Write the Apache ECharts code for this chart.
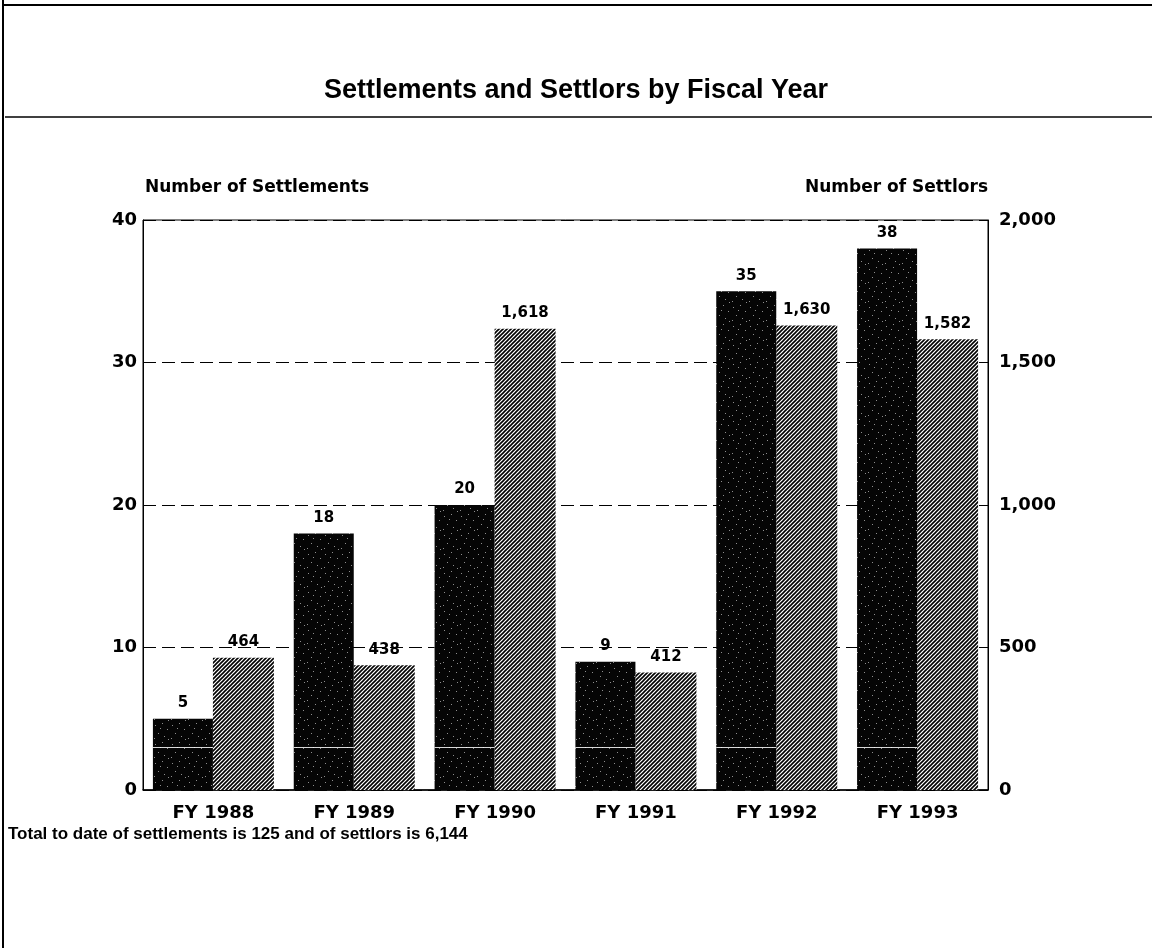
<!DOCTYPE html>
<html>
<head>
<meta charset="utf-8">
<script src="https://cdn.jsdelivr.net/npm/echarts@6/dist/echarts.min.js"></script>
<style>
  html, body { margin: 0; padding: 0; background: #fff; }
  #chart { width: 1152px; height: 948px; }
</style>
</head>
<body>
<div id="chart"></div>
<script>
// Fiscal years and counts
const years = ['FY 1988', 'FY 1989', 'FY 1990', 'FY 1991', 'FY 1992', 'FY 1993'];
const settlements = [5, 18, 20, 9, 35, 38];
const settlors = [464, 438, 1618, 412, 1630, 1582];
const settlementTicks = [0, 10, 20, 30, 40];
const settlorTicks = [0, 500, 1000, 1500, 2000];
// thin white rule that crosses the settlement bars
const dividerValue = 3;

const WIDE = '"DejaVu Sans", Verdana, sans-serif';
const NARROW = '"Liberation Sans", Arial, Helvetica, sans-serif';

const BLACK_W = 60;
const HATCH_W = 61;

// Diagonal hatch fill for the settlor bars
function hatchPattern() {
  const c = document.createElement('canvas');
  c.width = 4; c.height = 4;
  const g = c.getContext('2d');
  g.fillStyle = '#fff';
  g.fillRect(0, 0, 4, 4);
  g.strokeStyle = '#000';
  g.lineWidth = 1.6;
  g.beginPath();
  g.moveTo(-1, 5); g.lineTo(5, -1);
  g.moveTo(-1, 1); g.lineTo(1, -1);
  g.moveTo(3, 5); g.lineTo(5, 3);
  g.stroke();
  return c;
}

// Dark speckled fill for the settlement bars
function speckPattern() {
  const c = document.createElement('canvas');
  c.width = 17; c.height = 19;
  const g = c.getContext('2d');
  g.fillStyle = '#050505';
  g.fillRect(0, 0, 17, 19);
  g.fillStyle = 'rgba(255,255,255,0.55)';
  const dots = [[2, 3], [9, 1], [14, 7], [5, 11], [11, 14], [1, 16], [15, 17], [7, 6]];
  dots.forEach(([x, y]) => g.fillRect(x, y, 1, 1));
  return c;
}

const chart = echarts.init(document.getElementById('chart'), null, { renderer: 'canvas' });

const labelStyle = {
  show: true,
  position: 'top',
  distance: 8,
  color: '#000',
  fontFamily: WIDE,
  fontWeight: 'bold',
  fontSize: 15
};

const axisText = { color: '#000', fontFamily: WIDE, fontWeight: 'bold', fontSize: 18 };

chart.setOption({
  backgroundColor: '#fff',
  animation: false,
  title: {
    text: 'Settlements and Settlors by Fiscal Year',
    left: 'center',
    top: 72,
    textStyle: { fontFamily: NARROW, fontWeight: 'bold', fontSize: 27, color: '#000' }
  },
  graphic: [
    { type: 'line', shape: { x1: 3, y1: 0, x2: 3, y2: 948 }, style: { stroke: '#000', lineWidth: 2 } },
    { type: 'line', shape: { x1: 3, y1: 5, x2: 1152, y2: 5 }, style: { stroke: '#000', lineWidth: 2 } },
    { type: 'line', shape: { x1: 5, y1: 117, x2: 1152, y2: 117 }, style: { stroke: '#000', lineWidth: 1.6 } },
    {
      type: 'text', left: 8, top: 826,
      style: {
        text: 'Total to date of settlements is 125 and of settlors is 6,144',
        font: 'bold 17px ' + NARROW, fill: '#000'
      }
    }
  ],
  grid: {
    left: 143, right: 164, top: 220, bottom: 158,
    show: true, borderColor: '#000', borderWidth: 1, backgroundColor: 'transparent'
  },
  xAxis: {
    type: 'category',
    data: years,
    axisLine: { show: true, lineStyle: { color: '#000', width: 1.5 } },
    axisTick: { show: false },
    axisLabel: Object.assign({ margin: 14 }, axisText)
  },
  yAxis: [
    {
      type: 'value',
      min: settlementTicks[0],
      max: settlementTicks[settlementTicks.length - 1],
      interval: 10,
      name: 'Number of Settlements',
      nameLocation: 'end',
      nameGap: 24,
      nameTextStyle: { align: 'left', color: '#000', fontFamily: WIDE, fontWeight: 'bold', fontSize: 17, padding: [0, 0, 0, 2] },
      axisLine: { show: true, lineStyle: { color: '#000' } },
      axisTick: { show: false },
      axisLabel: Object.assign({ margin: 6 }, axisText),
      splitLine: { show: true, lineStyle: { color: '#000', type: [13, 6], width: 1 } }
    },
    {
      type: 'value',
      min: settlorTicks[0],
      max: settlorTicks[settlorTicks.length - 1],
      interval: 500,
      name: 'Number of Settlors',
      nameLocation: 'end',
      nameGap: 24,
      nameTextStyle: { align: 'right', color: '#000', fontFamily: WIDE, fontWeight: 'bold', fontSize: 17 },
      axisLine: { show: true, lineStyle: { color: '#000' } },
      axisTick: { show: false },
      axisLabel: Object.assign({ margin: 11, formatter: v => v.toLocaleString('en-US') }, axisText),
      splitLine: { show: false }
    }
  ],
  series: [
    {
      name: 'Settlements',
      type: 'bar',
      yAxisIndex: 0,
      data: settlements,
      barWidth: BLACK_W,
      barGap: '0%',
      itemStyle: { color: { image: speckPattern(), repeat: 'repeat' } },
      label: labelStyle,
      z: 3
    },
    {
      name: 'Settlors',
      type: 'bar',
      yAxisIndex: 1,
      data: settlors,
      barWidth: HATCH_W,
      barGap: '0%',
      itemStyle: { color: { image: hatchPattern(), repeat: 'repeat' } },
      label: Object.assign({}, labelStyle, { formatter: p => p.value.toLocaleString('en-US') }),
      z: 2
    },
    {
      name: 'divider',
      type: 'custom',
      yAxisIndex: 0,
      silent: true,
      z: 5,
      data: settlements.map((v, i) => [i, v]),
      renderItem: (params, api) => {
        if (api.value(1) <= dividerValue) return null;
        const p = api.coord([api.value(0), dividerValue]);
        const x0 = p[0] - (BLACK_W + HATCH_W) / 2;
        return {
          type: 'line',
          shape: { x1: x0, y1: Math.round(p[1]) + 0.5, x2: x0 + BLACK_W, y2: Math.round(p[1]) + 0.5 },
          style: { stroke: '#fff', lineWidth: 1, opacity: 0.85 }
        };
      }
    }
  ]
});
</script>
</body>
</html>
